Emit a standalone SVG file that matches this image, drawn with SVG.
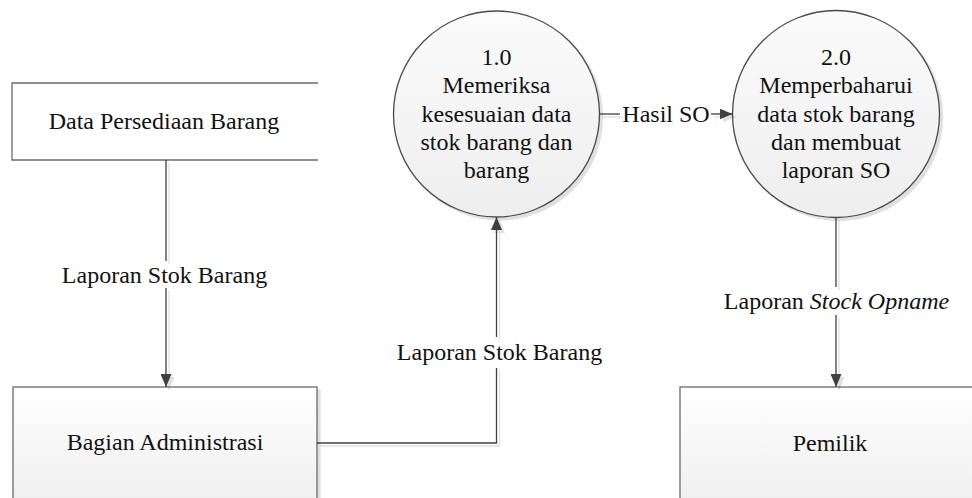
<svg xmlns="http://www.w3.org/2000/svg" width="972" height="498" viewBox="0 0 972 498">
  <style>
    .lbl { font-family: "Liberation Serif", "Times New Roman", serif; font-size: 24px; fill: #111; text-anchor: middle; }
    .box { stroke: #6b6b6b; stroke-width: 1.3; }
    .proc { stroke: #4a4a4a; stroke-width: 1.3; fill: url(#procFill); }
    .flow { fill: none; stroke: #404040; stroke-width: 1.3; }
  </style>
  <defs>
    <linearGradient id="boxFill" x1="0" y1="0" x2="0" y2="1">
      <stop offset="0" stop-color="#ffffff"/>
      <stop offset="1" stop-color="#ececec"/>
    </linearGradient>
    <linearGradient id="procFill" x1="0" y1="0" x2="0" y2="1">
      <stop offset="0" stop-color="#fbfbfb"/>
      <stop offset="1" stop-color="#eeeeee"/>
    </linearGradient>
    <filter id="shadow" x="-10%" y="-10%" width="130%" height="130%">
      <feDropShadow dx="3" dy="3" stdDeviation="0.6" flood-color="#000" flood-opacity="0.12"/>
    </filter>
    <marker id="arrow" viewBox="0 0 13 11" refX="13" refY="5.5" markerWidth="13" markerHeight="11" markerUnits="userSpaceOnUse" orient="auto">
      <path d="M0,0 L13,5.5 L0,11 z" fill="#404040"/>
    </marker>
  </defs>

  <rect width="972" height="498" fill="#ffffff"/>

  <!-- external entity: data store source (right side open) -->
  <g id="data-persediaan">
    <rect x="12" y="83" width="306" height="77" fill="#ffffff"/>
    <path class="box" d="M318,83 H12 V160 H318" fill="none"/>
    <text class="lbl" x="164" y="129">Data Persediaan Barang</text>
  </g>

  <!-- external entity: administration -->
  <g id="bagian-administrasi">
    <rect class="box" x="13" y="387" width="304" height="140" fill="url(#boxFill)" filter="url(#shadow)"/>
    <text class="lbl" x="165" y="450">Bagian Administrasi</text>
  </g>

  <!-- external entity: owner -->
  <g id="pemilik">
    <rect class="box" x="680" y="387" width="320" height="140" fill="url(#boxFill)" filter="url(#shadow)"/>
    <text class="lbl" x="830" y="451">Pemilik</text>
  </g>

  <!-- process 1.0 -->
  <g id="proses-1">
    <circle class="proc" cx="496.5" cy="114" r="103" filter="url(#shadow)"/>
    <text class="lbl" x="496.5" y="65">1.0</text>
    <text class="lbl" x="496.5" y="93.4">Memeriksa</text>
    <text class="lbl" x="496.5" y="121.7">kesesuaian data</text>
    <text class="lbl" x="496.5" y="150">stok barang dan</text>
    <text class="lbl" x="496.5" y="178.3">barang</text>
  </g>

  <!-- process 2.0 -->
  <g id="proses-2">
    <circle class="proc" cx="836" cy="114" r="103.5" filter="url(#shadow)"/>
    <text class="lbl" x="836" y="65">2.0</text>
    <text class="lbl" x="836" y="93.4">Memperbaharui</text>
    <text class="lbl" x="836" y="121.7">data stok barang</text>
    <text class="lbl" x="836" y="150">dan membuat</text>
    <text class="lbl" x="836" y="178.3">laporan SO</text>
  </g>

  <!-- data flows -->
  <g id="connectors">
    <g filter="url(#shadow)">
      <!-- stock report to administration -->
      <path class="flow" d="M166,160 V261"/>
      <path class="flow" d="M166,288 V387" marker-end="url(#arrow)"/>
      <!-- stock report to process 1.0 -->
      <path class="flow" d="M317,443 H496.5 V368"/>
      <path class="flow" d="M496.5,337 V217" marker-end="url(#arrow)"/>
      <!-- SO result to process 2.0 -->
      <path class="flow" d="M599.5,114 H620"/>
      <path class="flow" d="M711,114 H732.5" marker-end="url(#arrow)"/>
      <!-- stock opname report to owner -->
      <path class="flow" d="M836,217.5 V287"/>
      <path class="flow" d="M836,315 V387" marker-end="url(#arrow)"/>
    </g>
    <text class="lbl" x="164.5" y="283">Laporan Stok Barang</text>
    <text class="lbl" x="499.5" y="360">Laporan Stok Barang</text>
    <text class="lbl" x="666" y="122">Hasil SO</text>
    <text class="lbl" x="836.5" y="309">Laporan <tspan font-style="italic">Stock Opname</tspan></text>
  </g>
</svg>
